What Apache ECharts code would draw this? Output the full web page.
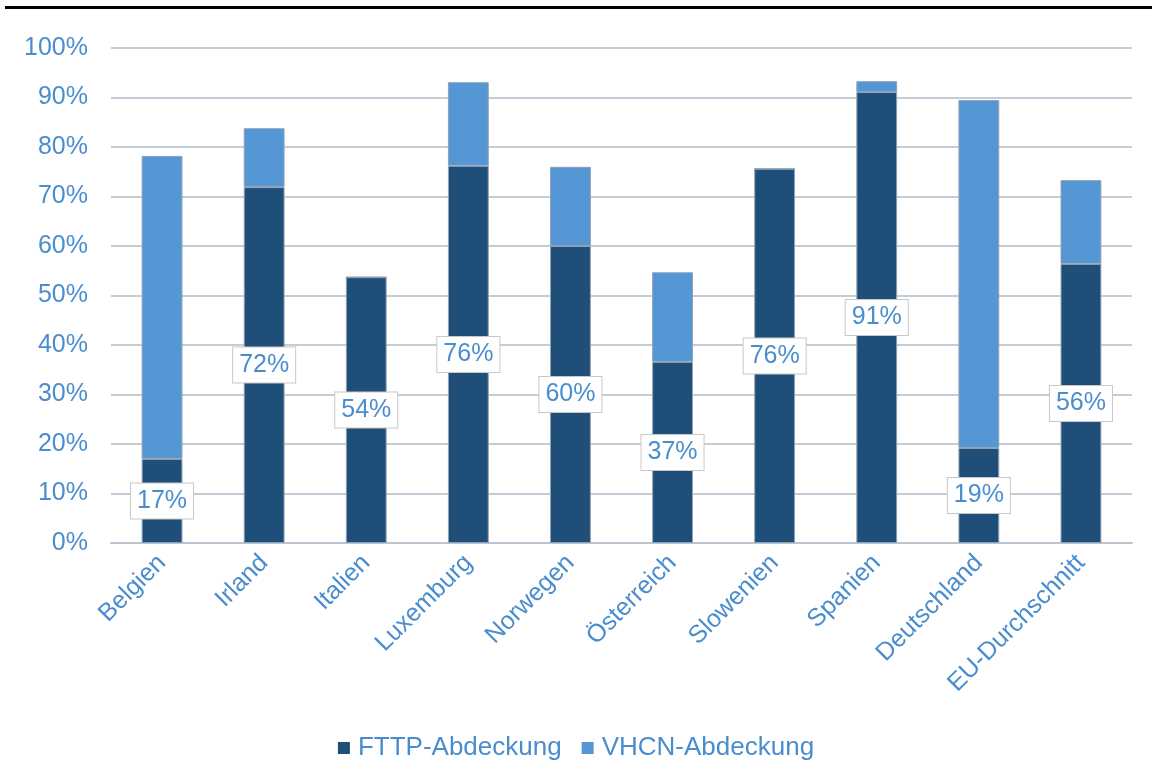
<!DOCTYPE html>
<html><head><meta charset="utf-8">
<script src="https://cdn.jsdelivr.net/npm/echarts@6/dist/echarts.min.js"></script>
<style>html,body{margin:0;padding:0;background:#fff}#c{width:1152px;height:760px}</style>
</head><body><div id="c"></div>
<script>
const categories = ['Belgien','Irland','Italien','Luxemburg','Norwegen','Österreich','Slowenien','Spanien','Deutschland','EU-Durchschnitt'];
const fttp = [17.0, 71.9, 53.7, 76.2, 60.0, 36.6, 75.6, 91.1, 19.2, 56.4];
const vhcnTotal = [78.2, 83.8, 53.7, 93.1, 76.0, 54.7, 75.6, 93.3, 89.5, 73.3];
const yTicks = [0,10,20,30,40,50,60,70,80,90,100];

const vhcnExtra = vhcnTotal.map((v,i)=>Math.max(0, +(v - fttp[i]).toFixed(1)));
const txt = '#4a8dcf';
const font = 'Liberation Sans, Arial, sans-serif';
const chart = echarts.init(document.getElementById('c'));
chart.setOption({
  animation:false,
  textStyle:{fontFamily:font},
  graphic:[{type:'rect',shape:{x:5,y:6,width:1147,height:3},style:{fill:'#000'}}],
  grid:{left:111,right:20,top:48,bottom:217,containLabel:false},
  legend:{bottom:-6,left:'center',itemWidth:12,itemHeight:12,itemGap:20,icon:'rect',
    itemStyle:{borderWidth:0},
    textStyle:{color:txt,fontSize:26,fontFamily:font,padding:[0,0,0,3]},
    data:['FTTP-Abdeckung','VHCN-Abdeckung']},
  xAxis:{type:'category',data:categories,
    axisLine:{lineStyle:{color:'#bcc5d0',width:2}},axisTick:{show:false},
    axisLabel:{rotate:45,color:txt,fontSize:25,margin:16,interval:0,fontFamily:font}},
  yAxis:{type:'value',min:0,max:100,interval:10,
    axisLine:{show:false},axisTick:{show:false},
    splitLine:{lineStyle:{color:'#c3ccd7',width:2}},
    axisLabel:{color:txt,fontSize:25,margin:23,formatter:v=>v+'%',fontFamily:font}},
  series:[
    {name:'FTTP-Abdeckung',type:'bar',stack:'a',barWidth:'40%',data:fttp,
     itemStyle:{color:'#1f4e79',borderColor:'#8fa3b8',borderWidth:1},
     label:{show:true,position:'inside',formatter:p=>Math.round(p.value)+'%',
       color:txt,fontSize:25,fontFamily:font,backgroundColor:'#fff',borderColor:'#c8c8c8',borderWidth:1,padding:[5,6]},
     z:2},
    {name:'VHCN-Abdeckung',type:'bar',stack:'a',barWidth:'40%',data:vhcnExtra,
     itemStyle:{color:'#5597d4',borderColor:'#8fa3b8',borderWidth:1},z:1}
  ]
});
</script></body></html>
